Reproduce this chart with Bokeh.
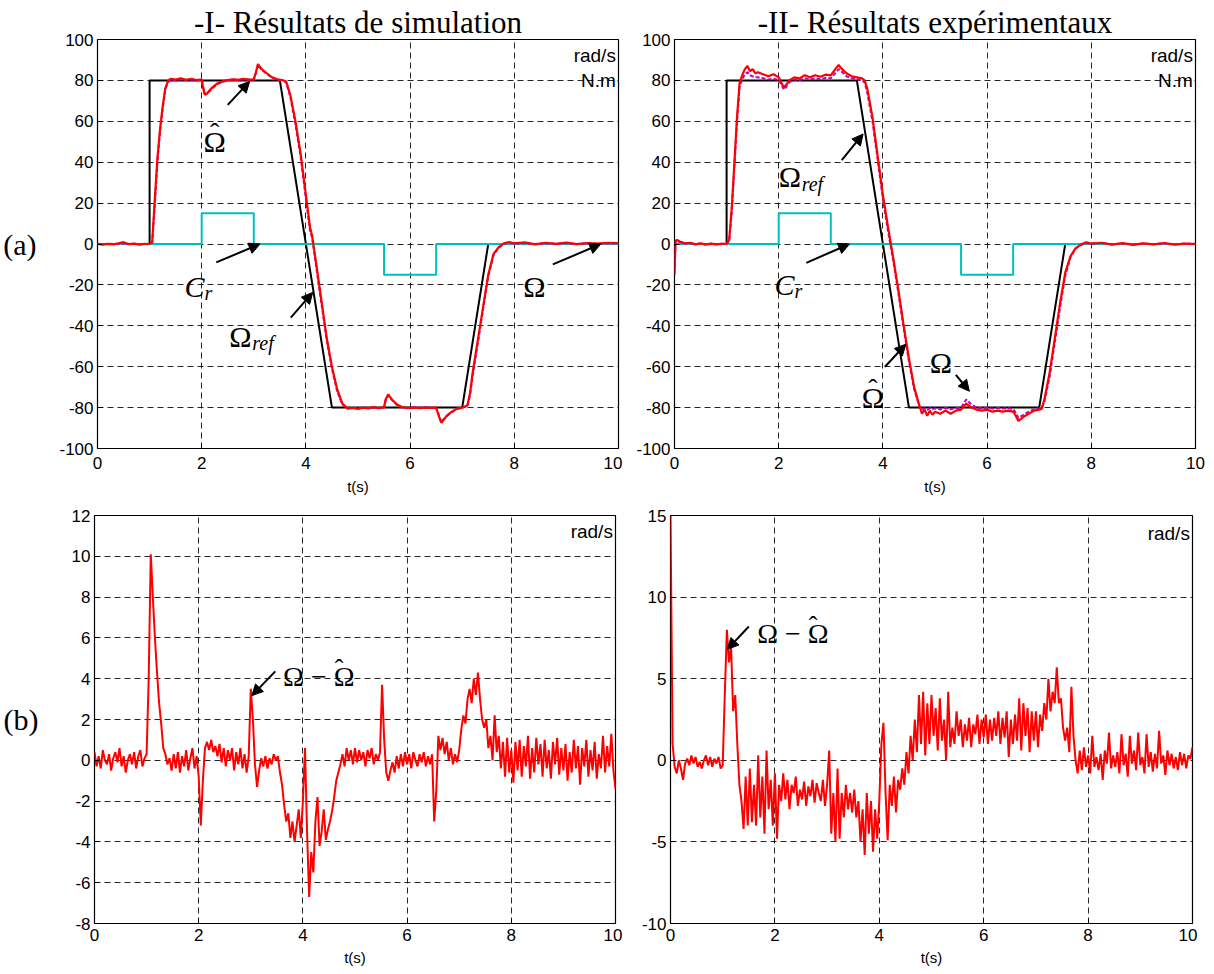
import numpy as np
from bokeh.plotting import figure
from bokeh.models import Label, Arrow, NormalHead, FixedTicker, Range1d
from bokeh.layouts import column, row
from bokeh.embed import file_html
from bokeh.resources import INLINE

# ---------------- data ----------------
# reference speed and load torque (both panels)
t_ref = [0.0, 1.0, 1.0, 3.5, 4.5, 7.0, 7.5, 10.0]
w_ref = [0.0, 0.0, 80.0, 80.0, -80.0, -80.0, 0.0, 0.0]
t_cr = [0.0, 2.0, 2.0, 3.0, 3.0, 5.5, 5.5, 6.5, 6.5, 10.0]
c_r = [0.0, 0.0, 15.0, 15.0, 0.0, 0.0, -15.0, -15.0, 0.0, 0.0]

# simulation: measured speed and estimated speed
t_sim = [0.0, 0.1, 0.2, 0.3, 0.4, 0.5, 0.6, 0.7, 0.8, 0.9,
         1.0, 1.05, 1.1, 1.15, 1.2, 1.25, 1.3, 1.35, 1.4, 1.5,
         1.6, 1.7, 1.8, 1.9, 2.0, 2.03, 2.06, 2.1, 2.2, 2.3,
         2.4, 2.5, 2.6, 2.7, 2.8, 2.9, 3.0, 3.04, 3.08, 3.15,
         3.25, 3.35, 3.45, 3.55, 3.62, 3.7, 3.8, 3.9, 4.0, 4.08,
         4.12, 4.2, 4.3, 4.4, 4.5, 4.6, 4.7, 4.8, 4.9, 5.0,
         5.1, 5.2, 5.3, 5.4, 5.5, 5.53, 5.58, 5.65, 5.75, 5.85,
         5.95, 6.1, 6.2, 6.3, 6.4, 6.5, 6.55, 6.6, 6.7, 6.8,
         6.9, 7.0, 7.1, 7.15, 7.2, 7.3, 7.4, 7.5, 7.6, 7.7,
         7.8, 7.9, 8.0, 8.2, 8.4, 8.6, 8.8, 9.0, 9.2, 9.4,
         9.6, 9.8, 10.0]
w_sim = [0.2, -0.3, 0.1, -0.2, 0.3, 0.9, -0.1, 0.2, -0.3, 0.1,
         0.0, 1.0, 22.0, 42.0, 56.0, 67.0, 76.0, 79.5, 80.8, 80.4,
         81.0, 80.3, 80.8, 80.2, 80.5, 76.0, 73.0, 73.5, 76.5, 78.5,
         79.5, 80.2, 80.5, 80.3, 80.8, 80.4, 80.5, 84.0, 88.0, 85.5,
         83.5, 81.5, 80.5, 80.2, 79.5, 73.0, 60.0, 44.0, 24.0, 8.0,
         4.0, -10.0, -28.0, -46.0, -60.0, -71.0, -78.0, -80.5, -80.2, -80.6,
         -80.0, -80.4, -79.8, -80.3, -79.8, -76.0, -73.5, -76.0, -78.5, -79.8,
         -80.2, -80.0, -80.3, -79.9, -80.2, -80.0, -84.0, -87.5, -84.0, -82.0,
         -80.5, -80.0, -79.0, -73.0, -63.0, -47.0, -31.0, -15.0, -5.0, -1.5,
         0.3, 1.0, 0.3, 0.8, -0.2, 0.6, 0.1, 0.7, -0.1, 0.5,
         0.2, 0.6, 0.4]
west_sim = [0.0, -0.1, 0.1, 0.0, 0.1, 0.3, 0.0, 0.1, -0.1, 0.0,
            0.0, 0.5, 19.0, 40.0, 55.0, 66.0, 75.5, 79.0, 80.3, 80.2,
            80.5, 80.2, 80.4, 80.1, 80.3, 76.5, 73.5, 73.5, 76.0, 78.2,
            79.3, 80.0, 80.3, 80.2, 80.5, 80.3, 80.4, 83.5, 87.5, 85.2,
            83.2, 81.3, 80.4, 80.0, 79.0, 72.0, 58.5, 42.5, 22.0, 6.5,
            3.0, -11.5, -29.5, -47.0, -61.0, -72.0, -78.5, -80.3, -80.1, -80.3,
            -80.0, -80.2, -79.9, -80.1, -79.9, -76.5, -74.0, -76.2, -78.8, -79.9,
            -80.1, -80.0, -80.1, -80.0, -80.1, -80.0, -83.5, -87.0, -84.2, -82.2,
            -80.6, -80.1, -79.3, -74.0, -64.5, -48.5, -32.0, -16.0, -5.5, -1.8,
            0.1, 0.5, 0.2, 0.4, 0.0, 0.3, 0.1, 0.4, 0.0, 0.3,
            0.1, 0.3, 0.2]

# experiment: measured speed and estimated speed
t_exp = [0.0, 0.02, 0.05, 0.1, 0.2, 0.3, 0.4, 0.5, 0.6, 0.7,
         0.8, 0.9, 1.0, 1.05, 1.1, 1.15, 1.2, 1.25, 1.3, 1.35,
         1.4, 1.45, 1.5, 1.55, 1.6, 1.7, 1.8, 1.9, 2.0, 2.05,
         2.1, 2.15, 2.2, 2.3, 2.4, 2.5, 2.6, 2.7, 2.8, 2.9,
         3.0, 3.1, 3.15, 3.2, 3.3, 3.4, 3.5, 3.6, 3.65, 3.7,
         3.8, 3.9, 4.0, 4.1, 4.2, 4.3, 4.4, 4.5, 4.6, 4.7,
         4.75, 4.8, 4.85, 4.9, 4.95, 5.0, 5.1, 5.2, 5.3, 5.4,
         5.5, 5.55, 5.6, 5.7, 5.8, 5.9, 6.0, 6.1, 6.2, 6.3,
         6.4, 6.5, 6.55, 6.6, 6.7, 6.8, 6.9, 7.0, 7.05, 7.1,
         7.2, 7.3, 7.4, 7.5, 7.6, 7.7, 7.8, 7.9, 8.0, 8.2,
         8.4, 8.6, 8.8, 9.0, 9.2, 9.4, 9.6, 9.8, 10.0]
w_exp = [-15.0, 1.5, 2.0, 1.2, 0.3, 0.6, -0.2, 0.3, -0.3, 0.2,
         -0.2, 0.1, 0.2, 2.0, 18.0, 40.0, 62.0, 79.0, 82.5, 85.5,
         87.0, 84.5, 85.5, 83.5, 84.0, 83.0, 82.0, 83.0, 81.5, 79.0,
         76.5, 78.0, 80.0, 81.5, 81.0, 82.5, 81.5, 82.5, 81.8, 82.8,
         82.5, 86.0, 87.5, 86.0, 83.5, 82.0, 81.5, 81.0, 80.0, 76.0,
         62.0, 43.0, 24.0, 8.0, -7.0, -23.0, -40.0, -56.0, -70.0, -79.0,
         -83.0, -81.0, -84.0, -81.5, -83.5, -82.0, -83.0, -81.5, -83.0, -81.5,
         -81.0, -79.5, -78.0, -80.0, -81.0, -81.5, -81.0, -82.0, -81.5, -82.0,
         -81.5, -82.0, -84.0, -86.5, -84.5, -83.0, -81.5, -81.0, -80.5, -76.0,
         -63.0, -46.0, -29.0, -14.0, -6.0, -2.0, -0.3, 0.8, 0.2, 0.6,
         -0.3, 0.4, -0.4, 0.3, -0.2, 0.5, -0.3, 0.2, 0.0]
west_exp = [-12.0, 1.0, 1.5, 1.0, 0.2, 0.4, -0.1, 0.2, -0.2, 0.1,
            -0.1, 0.1, 0.1, 1.5, 16.0, 38.0, 60.0, 77.0, 80.5, 83.0,
            84.0, 82.5, 82.0, 81.5, 81.5, 81.0, 80.5, 80.8, 80.2, 78.0,
            75.5, 77.0, 79.0, 80.5, 80.2, 81.0, 80.5, 81.0, 80.6, 81.2,
            81.0, 84.0, 85.5, 84.5, 82.0, 81.0, 80.5, 80.2, 79.0, 74.0,
            60.0, 41.0, 22.0, 6.0, -8.5, -24.5, -41.5, -57.5, -71.0, -79.5,
            -81.0, -80.3, -81.2, -80.3, -80.8, -80.4, -80.9, -80.2, -80.8, -80.3,
            -80.0, -78.0, -76.0, -78.5, -80.0, -80.3, -80.0, -80.5, -80.2, -80.5,
            -80.3, -80.6, -82.5, -85.0, -83.5, -82.0, -80.8, -80.3, -80.0, -77.0,
            -65.0, -48.0, -31.0, -15.5, -6.5, -2.2, -0.5, 0.5, 0.3, 0.5,
            -0.2, 0.3, -0.2, 0.2, -0.1, 0.4, -0.2, 0.2, 0.1]

# speed estimation error, sampled every 0.04 s from 0 to 10 s
t_err = np.linspace(0.0, 10.0, 251)
err_sim = [0.4, -0.3, 0.2, -0.4, 0.5, 0.0, -0.2, 0.3, -0.5, 0.1, 0.4, -0.1, 0.6, -0.3, 0.2, -0.6, 0.0, 0.3, -0.2, 0.4, -0.4, 0.2, 0.5, -0.3, 0.1,
           0.3, 4.0, 10.1, 8.0, 6.0, 4.3, 2.8, 1.8, 0.6, 0.3, -0.2, 0.1, -0.5, 0.3, -0.4, 0.4, -0.6, 0.2, -0.3, 0.5, -0.5, 0.1, 0.6, -0.4, 0.2,
           -0.8, -3.2, -1.0, 0.6, 0.9, 0.5, 1.0, 0.4, 0.7, 0.2, 0.8, -0.1, 0.6, -0.3, 0.5, 0.0, 0.6, -0.5, 0.4, -0.2, 0.6, -0.4, 0.3, -0.6, 0.2,
           3.5, 2.0, -0.2, -1.3, -0.5, 0.1, -0.3, 0.2, -0.4, 0.1, -0.2, 0.3, 0.0, 0.2, -0.6, -1.2, -2.2, -3.0, -2.6, -3.8, -3.0, -4.0, -3.2, -2.4, -3.8,
           -2.0, 0.6, -3.5, -6.7, -4.5, -5.5, -3.0, -1.8, -4.2, -3.5, -2.4, -3.9, -3.4, -3.0, -2.5, -1.8, -1.0, -0.6, -0.2, 0.3, -0.3, 0.6, 0.0, 0.5, -0.2,
           0.6, -0.1, 0.5, 0.0, 0.4, -0.3, 0.5, 0.1, 0.6, -0.2, 0.3, 0.0, 0.4, 3.7, 1.0, -0.6, -1.0, -0.5, -0.1, -0.6, 0.2, -0.4, 0.3, -0.3, 0.4,
           -0.2, 0.3, -0.4, 0.4, 0.0, -0.3, 0.3, -0.1, 0.4, -0.3, 0.2, -0.2, 0.3, -3.0, -1.5, 1.2, 0.5, 1.1, 0.3, 0.9, 0.0, 0.6, -0.2, 0.3, -0.1,
           0.5, 1.5, 2.2, 1.8, 3.0, 3.5, 2.8, 4.0, 3.2, 4.3, 3.0, 2.0, 1.6, 2.0, 0.6, 1.2, 0.0, 2.2, 0.4, 1.2, -0.4, 0.9, -0.8, 1.1, -0.6,
           0.5, -1.1, 0.9, -0.5, 1.0, -0.8, 0.7, -0.3, 1.2, -0.9, 0.6, -0.6, 1.1, -0.2, 0.8, -0.8, 1.0, -0.4, 0.5, -0.9, 0.9, -0.2, 1.1, -0.7, 0.6,
           -0.5, 0.8, -1.0, 0.4, -0.6, 1.0, -0.4, 0.7, -1.2, 0.6, -0.3, 1.0, -0.8, 0.5, -0.5, 0.9, -0.9, 0.3, -0.4, 1.2, -0.6, 0.7, -0.3, 1.3, -0.5,
           -1.4]
err_exp = [15.0, 1.0, -0.4, -0.8, 0.0, -0.5, -1.2, -0.2, 0.1, -0.3, 0.3, -0.2, 0.2, -0.4, -0.1, -0.5, 0.0, 0.3, -0.3, 0.2, -0.4, 0.1, -0.2, 0.2, -0.5,
           -0.3, 4.0, 8.0, 6.0, 7.0, 3.0, 4.0, 1.0, -1.5, -2.5, -4.2, -1.0, -4.0, -0.5, -3.8, -1.5, -4.0, 0.3, -3.5, -1.0, -4.5, 0.6, -3.0, -1.2, -4.0,
           -0.8, -4.8, -1.5, -2.5, -0.8, -2.4, -1.2, -3.0, -1.5, -2.0, -1.0, -2.8, -1.8, -2.4, -1.3, -2.8, -1.6, -2.2, -1.2, -2.6, -1.4, -2.0, -2.5, -1.2, -2.8,
           -1.5, 0.6, -4.5, -2.0, -5.0, -0.5, -4.8, -2.0, -3.5, -1.5, -3.0, -2.0, -3.2, -1.8, -3.5, -2.5, -5.0, -3.0, -5.8, -2.0, -4.5, -2.5, -5.6, -3.0, -4.8,
           -2.5, 1.0, 2.3, -2.0, -4.9, -1.5, -2.8, -1.0, -3.2, -1.2, -1.8, -0.5, -1.5, 0.5, -0.8, 1.5, 0.0, 2.5, 0.5, 4.0, 1.0, 4.2, 0.3, 3.5, 1.0,
           4.0, 1.5, 3.2, 0.6, 3.8, 1.2, 2.5, 0.0, 4.2, 0.8, 2.0, 1.0, 3.0, 1.5, 2.5, 0.8, 2.2, 1.2, 2.6, 0.8, 2.2, 1.6, 2.8, 1.0, 2.5,
           1.4, 2.8, 1.0, 2.5, 1.2, 2.6, 1.5, 3.0, 1.0, 2.6, 1.4, 3.0, 0.2, 2.5, 1.0, 2.8, 1.2, 3.8, 0.6, 3.5, 1.5, 3.2, 0.5, 3.0, 1.2,
           3.0, 0.8, 2.8, 1.8, 3.5, 2.5, 5.0, 3.0, 4.2, 3.5, 5.7, 3.5, 3.8, 2.0, 1.2, 2.0, 0.5, 4.5, 1.5, 0.0, -0.8, 0.6, -0.6, 0.8, -0.4,
           0.3, -0.8, 1.5, -0.4, 0.2, -0.6, 0.4, -1.2, 0.6, -0.2, 1.7, -0.5, 0.3, -0.4, 0.5, -0.8, 1.6, -0.3, 0.4, -1.0, 1.5, -0.2, 0.6, -0.6, 1.7,
           -0.3, 0.2, -0.8, 1.6, -0.4, 0.5, -0.7, 0.4, -0.5, 1.8, -0.2, 0.3, -0.9, 0.6, -0.3, 0.4, -0.5, 0.2, -0.6, 0.5, -0.3, 0.4, -0.5, 0.3, 0.1,
           0.8]

x_ticks = [0, 2, 4, 6, 8, 10]
y_ticks_a = [-100, -80, -60, -40, -20, 0, 20, 40, 60, 80, 100]
y_ticks_b_sim = [-8, -6, -4, -2, 0, 2, 4, 6, 8, 10, 12]
y_ticks_b_exp = [-10, -5, 0, 5, 10, 15]

titles = ["-I- Résultats de simulation", "-II- Résultats expérimentaux"]
row_labels = ["(a)", "(b)"]

RED = "#FF0000"
MAG = "#BF00BF"
CYAN = "#00BFBF"
SERIF = "Liberation Serif"
SANS = "Liberation Sans"


def make_fig(width, height, bl, br, bt, bb, yr, yticks, tick_so, lab_so):
    p = figure(width=width, height=height, x_range=Range1d(0, 10), y_range=Range1d(*yr),
               output_backend="svg", toolbar_location=None,
               min_border_left=bl, min_border_right=br, min_border_top=bt, min_border_bottom=bb)
    p.outline_line_color = "black"
    p.outline_line_width = 1.2
    p.outline_line_alpha = 1.0
    p.background_fill_color = "white"
    p.border_fill_color = "white"
    p.xaxis.ticker = FixedTicker(ticks=x_ticks)
    p.yaxis.ticker = FixedTicker(ticks=yticks)
    p.yaxis.major_label_overrides = {v: str(v) for v in yticks}
    for ax in p.axis:
        ax.axis_line_color = None
        ax.major_tick_in = 5
        ax.major_tick_out = 0
        ax.major_tick_line_color = "black"
        ax.minor_tick_line_color = None
        ax.major_label_text_font = SANS
        ax.major_label_text_font_size = "17px"
        ax.major_label_text_color = "black"
    p.yaxis.major_label_standoff = 4
    p.xaxis.major_label_standoff = tick_so
    p.xaxis.axis_label = "t(s)"
    p.xaxis.axis_label_text_font = SANS
    p.xaxis.axis_label_text_font_size = "15px"
    p.xaxis.axis_label_text_font_style = "normal"
    p.xaxis.axis_label_text_color = "black"
    p.xaxis.axis_label_standoff = lab_so
    p.grid.grid_line_color = "black"
    p.grid.grid_line_dash = "6 4"
    p.grid.grid_line_width = 1
    p.grid.grid_line_alpha = 0.85
    return p


def set_title(p, text, offset):
    p.title.text = text
    p.title.align = "center"
    p.title.text_font = SERIF
    p.title.text_font_size = "31px"
    p.title.text_font_style = "normal"
    p.title.text_color = "black"
    p.title.standoff = 0
    p.title.offset = offset


def set_row_label(p, text, standoff):
    p.yaxis.axis_label = text
    p.yaxis.axis_label_orientation = "horizontal"
    p.yaxis.axis_label_text_font = SERIF
    p.yaxis.axis_label_text_font_size = "30px"
    p.yaxis.axis_label_text_font_style = "normal"
    p.yaxis.axis_label_text_color = "black"
    p.yaxis.axis_label_standoff = standoff


def lab(p, x, y, text, size, font=SERIF, style="normal", align="left",
        baseline="alphabetic", xo=0, yo=0):
    p.add_layout(Label(x=x, y=y, text=text, text_font=font, text_font_size=f"{size}px",
                       text_font_style=style, text_align=align, text_baseline=baseline,
                       x_offset=xo, y_offset=yo, text_color="black"))


def arr(p, x0, y0, x1, y1):
    p.add_layout(Arrow(end=NormalHead(size=11, fill_color="black", line_color="black", line_width=1),
                       x_start=x0, y_start=y0, x_end=x1, y_end=y1,
                       line_color="black", line_width=2))


def omega_ref(p, x, y):
    lab(p, x, y, "Ω", 30)
    lab(p, x, y, "ref", 20, style="italic", xo=23, yo=-7)


def omega_hat(p, x, y, xo=0):
    # x is the centre of the Omega glyph
    lab(p, x, y, "Ω", 30, align="center", xo=xo)
    lab(p, x, y, "\u02c6", 28, align="center", xo=xo, yo=9)


def c_r_label(p, x, y):
    lab(p, x, y, "C", 30, style="italic")
    lab(p, x, y, "r", 20, style="italic", xo=20, yo=-6)


def omega_diff(p, x, y):
    # "Omega - Omega-hat", x is the left edge
    lab(p, x, y, "Ω − Ω", 28)
    lab(p, x, y, "\u02c6", 26, align="center", xo=56, yo=8)


# ---------------- (a) simulation ----------------
pa1 = make_fig(622, 501, 96, 4, 39, 53, (-100, 100), y_ticks_a, 8, 6)
set_title(pa1, titles[0], -6)
set_row_label(pa1, row_labels[0], 20)
pa1.line(t_ref, w_ref, line_color="black", line_width=2)
pa1.line(t_cr, c_r, line_color=CYAN, line_width=2)
pa1.line(t_sim, west_sim, line_color=MAG, line_width=2, line_dash="4 2")
pa1.line(t_sim, w_sim, line_color=RED, line_width=2.2)
lab(pa1, 9.95, 92, "rad/s", 19, font=SANS, align="right", baseline="middle")
lab(pa1, 9.95, 80, "N.m", 19, font=SANS, align="right", baseline="middle")
omega_hat(pa1, 2.25, 50)
arr(pa1, 2.5, 68, 2.92, 79.5)
c_r_label(pa1, 1.67, -21)
arr(pa1, 2.28, -9, 3.12, 0)
omega_ref(pa1, 2.53, -45)
arr(pa1, 3.71, -36, 4.13, -23.7)
lab(pa1, 8.17, -21, "Ω", 30)
arr(pa1, 8.74, -10, 9.66, 0)

# ---------------- (a) experiment ----------------
pa2 = make_fig(583, 501, 52, 10, 39, 53, (-100, 100), y_ticks_a, 8, 6)
set_title(pa2, titles[1], 3)
pa2.line(t_ref, w_ref, line_color="black", line_width=2)
pa2.line(t_cr, c_r, line_color=CYAN, line_width=2)
pa2.line(t_exp, west_exp, line_color=MAG, line_width=2, line_dash="4 2")
pa2.line(t_exp, w_exp, line_color=RED, line_width=2.2)
lab(pa2, 9.95, 92, "rad/s", 19, font=SANS, align="right", baseline="middle")
lab(pa2, 9.95, 80, "N.m", 19, font=SANS, align="right", baseline="middle")
omega_ref(pa2, 2.0, 33)
arr(pa2, 3.21, 41, 3.62, 53.8)
c_r_label(pa2, 1.92, -20)
arr(pa2, 2.53, -9.2, 3.36, 0)
omega_hat(pa2, 3.81, -75)
arr(pa2, 4.04, -60, 4.44, -49)
lab(pa2, 4.9, -58, "Ω", 30)
arr(pa2, 5.4, -64, 5.66, -72)

# ---------------- (b) simulation ----------------
pb1 = make_fig(622, 471, 93, 7, 14, 49, (-8, 12), y_ticks_b_sim, 5, 5)
set_row_label(pb1, row_labels[1], 30)
pb1.line(t_err, err_sim, line_color=RED, line_width=2)
lab(pb1, 9.95, 11.2, "rad/s", 19, font=SANS, align="right", baseline="middle")
omega_diff(pb1, 3.62, 4.1)
arr(pb1, 3.47, 4.36, 3.02, 3.17)

# ---------------- (b) experiment ----------------
pb2 = make_fig(575, 471, 48, 5, 14, 49, (-10, 15), y_ticks_b_exp, 5, 5)
pb2.line(t_err, err_exp, line_color=RED, line_width=2)
lab(pb2, 9.95, 13.9, "rad/s", 19, font=SANS, align="right", baseline="middle")
omega_diff(pb2, 1.66, 7.8)
arr(pb2, 1.5, 8.2, 1.09, 6.8)

layout = column(row(pa1, pa2), row(pb1, pb2))
open("out.html", "w").write(file_html(layout, INLINE))
